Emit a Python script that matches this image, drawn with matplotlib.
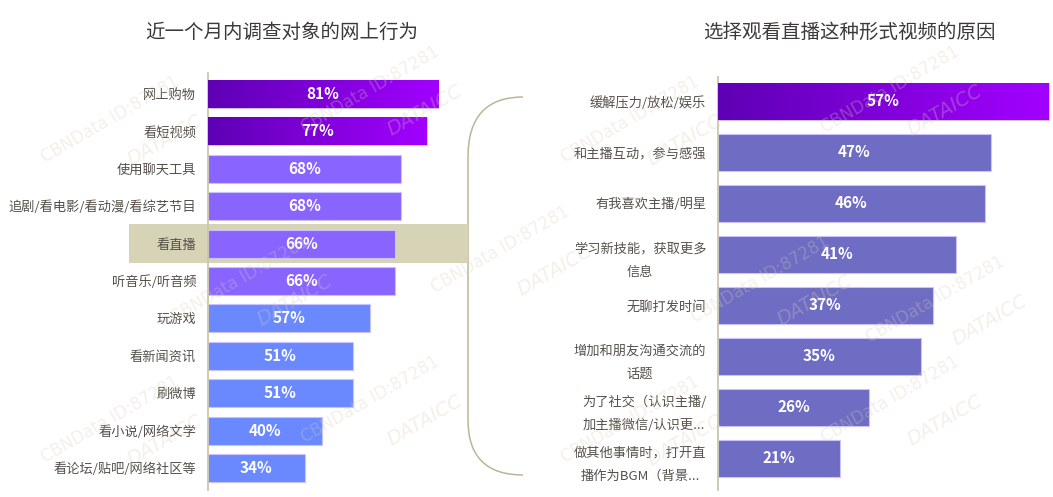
import numpy as np
import matplotlib.pyplot as plt
from matplotlib.colors import LinearSegmentedColormap
from matplotlib.patches import Rectangle, PathPatch
from matplotlib.path import Path

plt.rcParams['font.family'] = ['Noto Sans CJK SC', 'DejaVu Sans']

# left chart: online behaviour in the last month
left_title = '近一个月内调查对象的网上行为'
left_cats = ['网上购物', '看短视频', '使用聊天工具', '追剧/看电影/看动漫/看综艺节目', '看直播',
             '听音乐/听音频', '玩游戏', '看新闻资讯', '刷微博', '看小说/网络文学', '看论坛/贴吧/网络社区等']
left_vals = [81, 77, 68, 68, 66, 66, 57, 51, 51, 40, 34]
left_groups = ['grad', 'grad', 'purple', 'purple', 'purple', 'purple', 'blue', 'blue', 'blue', 'blue', 'blue']

# right chart: reasons for watching live streams
right_title = '选择观看直播这种形式视频的原因'
right_cats = ['缓解压力/放松/娱乐', '和主播互动，参与感强', '有我喜欢主播/明星', '学习新技能，获取更多\n信息',
              '无聊打发时间', '增加和朋友沟通交流的\n话题', '为了社交（认识主播/\n加主播微信/认识更...',
              '做其他事情时，打开直\n播作为BGM（背景...']
right_vals = [57, 47, 46, 41, 37, 35, 26, 21]
right_groups = ['grad'] + ['slate'] * 7

colors = {'purple': '#8964ff', 'blue': '#6a89ff', 'slate': '#6e6cc3'}
grad_cols = ('#5e00b4', '#a200ff')
line_col = '#cbc6aa'
text_col = '#55504a'

W, H = 1053, 497
fig = plt.figure(figsize=(W / 100, H / 100), dpi=100)

# background overlay in pixel coordinates for decorations
bg = fig.add_axes([0, 0, 1, 1], zorder=-1)
bg.set_xlim(0, W)
bg.set_ylim(H, 0)
bg.axis('off')


def px_axes(x0, y0, x1, y1):
    return fig.add_axes([x0 / W, 1 - y1 / H, (x1 - x0) / W, (y1 - y0) / H])


def grad_bar(ax, bar, c0, c1):
    x0, y0 = bar.get_x(), bar.get_y()
    w, h = bar.get_width(), bar.get_height()
    cmap = LinearSegmentedColormap.from_list('g', [c0, c1])
    im = ax.imshow(np.linspace(0, 1, 256).reshape(1, -1), cmap=cmap, aspect='auto',
                   extent=(x0, x0 + w, y0 + h, y0), zorder=3, interpolation='bilinear')
    im.set_clip_path(bar)


def draw_chart(ax, cats, vals, groups, xmax, ylim, height):
    y = np.arange(len(cats))
    cols = [colors.get(g, grad_cols[1]) for g in groups]
    bars = ax.barh(y, vals, height=height, color=cols, edgecolor='#c9c2ff', linewidth=0.8, zorder=2)
    for b, g in zip(bars, groups):
        if g == 'grad':
            grad_bar(ax, b, *grad_cols)
    for yi, v in zip(y, vals):
        ax.text(v / 2, yi, f'{v}%', color='white', fontsize=11, fontweight='bold',
                ha='center', va='center', zorder=5)
    ax.set_xlim(0, xmax)
    ax.set_ylim(*ylim)
    ax.set_yticks(y)
    ax.set_yticklabels(cats, fontsize=9.5, color=text_col, linespacing=2.0)
    for t in ax.get_yticklabels():
        t.set_multialignment('center')
    ax.tick_params(axis='y', length=0, pad=8.5)
    ax.set_xticks([])
    for s in ['top', 'right', 'bottom']:
        ax.spines[s].set_visible(False)
    ax.spines['left'].set_color(line_col)
    ax.spines['left'].set_linewidth(1.3)
    ax.set_facecolor('none')


# left chart: 2.84 px per percent, rows 37.4 px apart
axl = px_axes(208, 73, 208 + 284, 490)
draw_chart(axl, left_cats, left_vals, left_groups, 100, (10.59, -0.56), 0.75)
# highlight band for 看直播
axl.add_patch(Rectangle((-27.8, 3.49), 119.3, 1.02, facecolor='#d6d3b7', edgecolor='none',
                        zorder=0, clip_on=False))

# right chart: 5.8 px per percent, rows 51 px apart
axr = px_axes(718, 77, W, 490)
draw_chart(axr, right_cats, right_vals, right_groups, (W - 718) / 5.8, (7.62, -0.48), 0.72)

fig.text(282 / W, 1 - 32 / H, left_title, fontsize=14, color='#3c3a36', ha='center', va='center')
fig.text(849 / W, 1 - 32 / H, right_title, fontsize=14, color='#3c3a36', ha='center', va='center')

# bracket curve
verts = [(523, 97), (468, 97), (468, 157), (468, 420), (468, 475), (523, 475)]
codes = [Path.MOVETO, Path.CURVE3, Path.CURVE3, Path.LINETO, Path.CURVE3, Path.CURVE3]
bg.add_patch(PathPatch(Path(verts, codes), facecolor='none', edgecolor='#bdb596', lw=1.1))

# faint watermarks, kept inside the canvas
wm_pos = [(110, 120), (370, 90), (630, 120), (890, 90),
          (240, 280), (500, 250), (760, 280), (935, 300),
          (110, 420), (370, 400), (630, 420), (890, 400)]
for xx, yy in wm_pos:
    fig.text(xx / W, 1 - yy / H, 'CBNData ID:87281', fontsize=12, color='#d6cfb8', alpha=0.3,
             rotation=30, ha='center', va='center', family='DejaVu Sans', zorder=10)
    fig.text((xx + 55) / W, 1 - (yy + 20) / H, 'DATAICC', fontsize=14, color='#d6cfb8', alpha=0.3,
             rotation=30, ha='center', va='center', family='DejaVu Sans', style='italic', zorder=10)

fig.savefig('out.png', dpi=100)
